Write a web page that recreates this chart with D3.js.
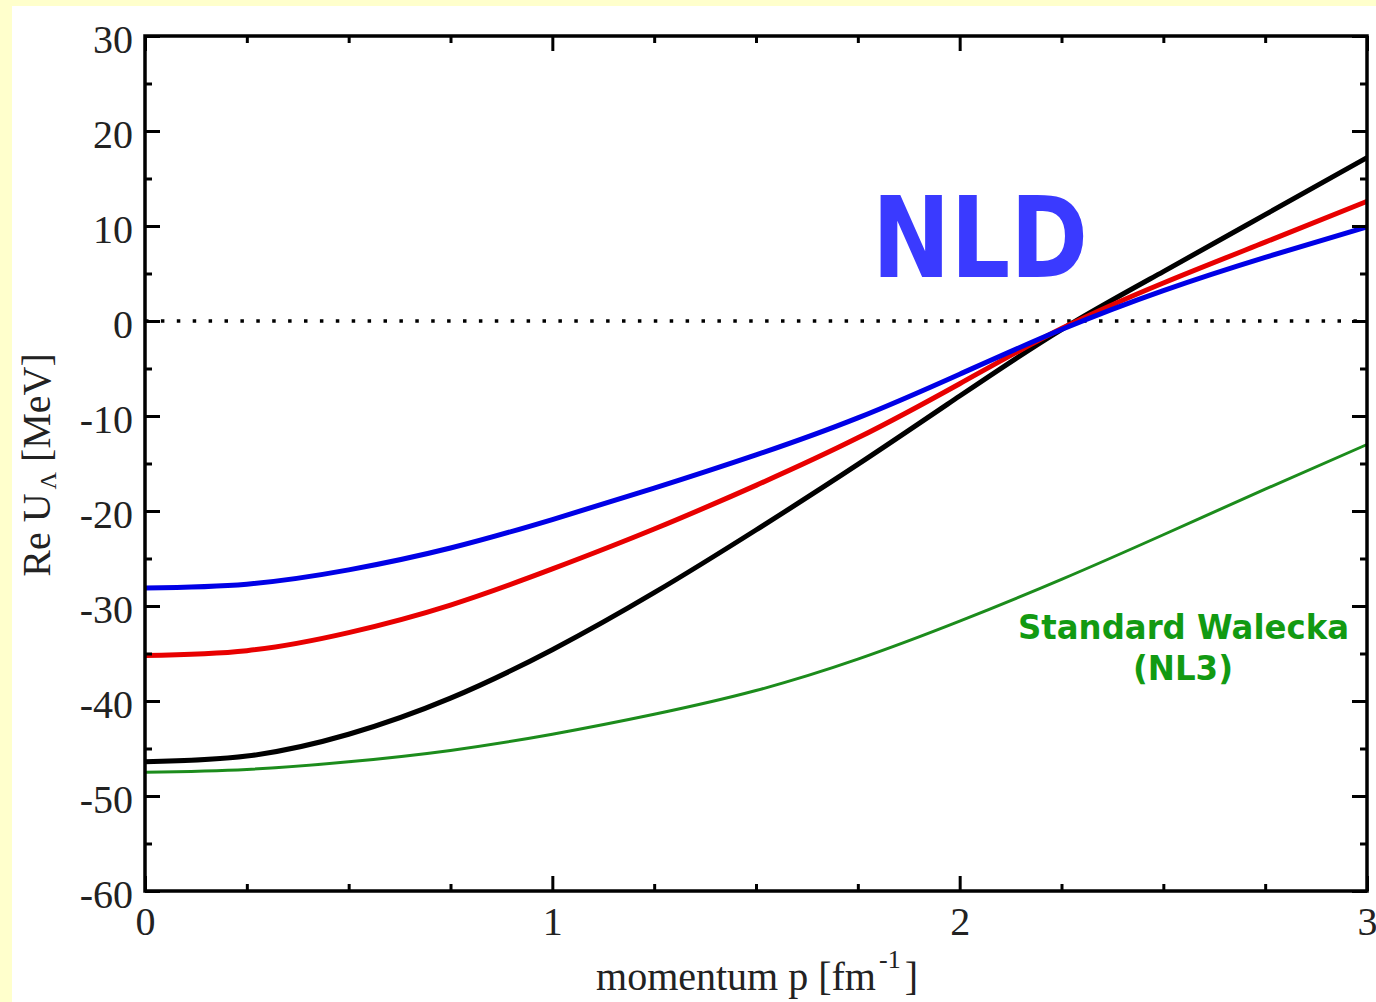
<!DOCTYPE html>
<html>
<head>
<meta charset="utf-8">
<script src="https://cdn.jsdelivr.net/npm/d3@7"></script>
<style>
  html, body { margin: 0; padding: 0; background: #ffffcc; }
  svg { display: block; }
</style>
</head>
<body>
<svg id="chart" width="1376" height="1002"></svg>
<script>
// ---- data ----
const momentum = [0, 0.25, 0.5, 0.75, 1, 1.25, 1.5, 1.75, 2, 2.25, 2.5, 2.75, 3];
const nldBlue  = [-28.1, -27.7, -26.2, -23.9, -20.9, -17.6, -14.1, -10.2, -5.6, -0.9, 3.2, 6.7, 9.9];
const nldRed   = [-35.2, -34.7, -32.8, -29.9, -26.1, -21.9, -17.3, -12.3, -6.6, -0.8, 4.0, 8.3, 12.6];
const nldBlack = [-46.4, -45.8, -43.5, -39.7, -34.6, -28.6, -22.0, -15.1, -7.9, -0.9, 5.2, 11.2, 17.2];
const nl3Green = [-47.5, -47.2, -46.4, -45.2, -43.5, -41.4, -38.9, -35.6, -31.6, -27.2, -22.5, -17.7, -13.0];
const xMajorTicks = [0, 1, 2, 3];
const xMinorTicks = [0.25, 0.5, 0.75, 1.25, 1.5, 1.75, 2.25, 2.5, 2.75];
const yMajorTicks = [30, 20, 10, 0, -10, -20, -30, -40, -50, -60];
const yMinorTicks = [25, 15, 5, -5, -15, -25, -35, -45, -55];
const xTitle = "momentum p [fm";
const xTitleSup = "-1";
const nldLabel = "NLD";
const nl3Label1 = "Standard Walecka";
const nl3Label2 = "(NL3)";

const svg = d3.select("#chart");
// white page area
svg.append("rect").attr("x", 12).attr("y", 6).attr("width", 1376 - 12).attr("height", 1002 - 6).attr("fill", "#ffffff");

const L = 145, R = 1367, T = 36, B = 891;
const x = d3.scaleLinear().domain([0, 3]).range([L, R]);
const y = d3.scaleLinear().domain([-60, 30]).range([B, T]);

const serif = "'Liberation Serif', 'Times New Roman', serif";

// zero dotted line
svg.append("line")
  .attr("x1", x(0)).attr("x2", x(3)).attr("y1", y(0)).attr("y2", y(0))
  .attr("stroke", "#000").attr("stroke-width", 3.5).attr("stroke-dasharray", "3.5,12.4");

// curves
const line = d3.line().x(d => x(d[0])).y(d => y(d[1])).curve(d3.curveNatural);
const series = [
  { vals: nl3Green, color: "#1c8c1c", w: 3 },
  { vals: nldBlack, color: "#000000", w: 5 },
  { vals: nldRed,   color: "#e80000", w: 5 },
  { vals: nldBlue,  color: "#0000e6", w: 5 }
];
series.forEach(s => {
  svg.append("path")
    .datum(momentum.map((p, i) => [p, s.vals[i]]))
    .attr("d", line)
    .attr("fill", "none")
    .attr("stroke", s.color)
    .attr("stroke-width", s.w)
    .attr("stroke-linejoin", "round");
});

// axes
function styleAxis(g) {
  g.select(".domain").remove();
  g.selectAll(".tick line").attr("stroke", "#000").attr("stroke-width", 3);
  g.selectAll(".tick text").attr("font-family", serif).attr("font-size", 40).attr("fill", "#222");
}
const fmt = d => String(d);
// bottom
svg.append("g").attr("transform", `translate(0,${B})`)
  .call(d3.axisBottom(x).tickValues(xMajorTicks).tickFormat(fmt).tickSize(-15).tickPadding(16))
  .call(styleAxis);
svg.append("g").attr("transform", `translate(0,${B})`)
  .call(d3.axisBottom(x).tickValues(xMinorTicks).tickFormat("").tickSize(-7))
  .call(styleAxis);
// top
svg.append("g").attr("transform", `translate(0,${T})`)
  .call(d3.axisTop(x).tickValues(xMajorTicks).tickFormat("").tickSize(-15))
  .call(styleAxis);
svg.append("g").attr("transform", `translate(0,${T})`)
  .call(d3.axisTop(x).tickValues(xMinorTicks).tickFormat("").tickSize(-7))
  .call(styleAxis);
// left
const gl = svg.append("g").attr("transform", `translate(${L},0)`)
  .call(d3.axisLeft(y).tickValues(yMajorTicks).tickFormat(fmt).tickSize(-15).tickPadding(12))
  .call(styleAxis);
gl.selectAll(".tick text").attr("dy", "0.42em");
svg.append("g").attr("transform", `translate(${L},0)`)
  .call(d3.axisLeft(y).tickValues(yMinorTicks).tickFormat("").tickSize(-7))
  .call(styleAxis);
// right
svg.append("g").attr("transform", `translate(${R},0)`)
  .call(d3.axisRight(y).tickValues(yMajorTicks).tickFormat("").tickSize(-15))
  .call(styleAxis);
svg.append("g").attr("transform", `translate(${R},0)`)
  .call(d3.axisRight(y).tickValues(yMinorTicks).tickFormat("").tickSize(-7))
  .call(styleAxis);

// frame
svg.append("rect").attr("x", L).attr("y", T).attr("width", R - L).attr("height", B - T)
  .attr("fill", "none").attr("stroke", "#000").attr("stroke-width", 3.5);

// x title
const xt = svg.append("text").attr("x", 757).attr("y", 990)
  .attr("text-anchor", "middle").attr("font-family", serif).attr("font-size", 40).attr("fill", "#222");
xt.append("tspan").text(xTitle);
xt.append("tspan").attr("font-size", 26).attr("dx", 3).attr("dy", -22).text(xTitleSup);
xt.append("tspan").attr("dx", 4).attr("dy", 22).text("]");

// y title
const yt = svg.append("text")
  .attr("transform", "translate(50,465) rotate(-90)")
  .attr("text-anchor", "middle").attr("font-family", serif).attr("font-size", 40).attr("fill", "#222");
yt.append("tspan").text("Re U");
yt.append("tspan").attr("font-size", 24).attr("dy", 6).attr("dx", 4).text("Λ");
yt.append("tspan").attr("dy", -6).text(" [MeV]");

// annotations
svg.append("text").attr("x", 872).attr("y", 277)
  .attr("font-family", "'DejaVu Sans', sans-serif").attr("font-weight", "bold")
  .attr("font-size", 112).attr("fill", "#3a3aff")
  .attr("textLength", 216).attr("lengthAdjust", "spacingAndGlyphs")
  .text(nldLabel);
svg.append("text").attr("x", 1018).attr("y", 639)
  .attr("font-family", "'DejaVu Sans', sans-serif").attr("font-weight", "bold")
  .attr("font-size", 34).attr("fill", "#129a12")
  .attr("textLength", 331).attr("lengthAdjust", "spacingAndGlyphs")
  .text(nl3Label1);
svg.append("text").attr("x", 1183).attr("y", 680).attr("text-anchor", "middle")
  .attr("font-family", "'DejaVu Sans', sans-serif").attr("font-weight", "bold")
  .attr("font-size", 34).attr("fill", "#129a12")
  .attr("textLength", 100).attr("lengthAdjust", "spacingAndGlyphs")
  .text(nl3Label2);
</script>
</body>
</html>
